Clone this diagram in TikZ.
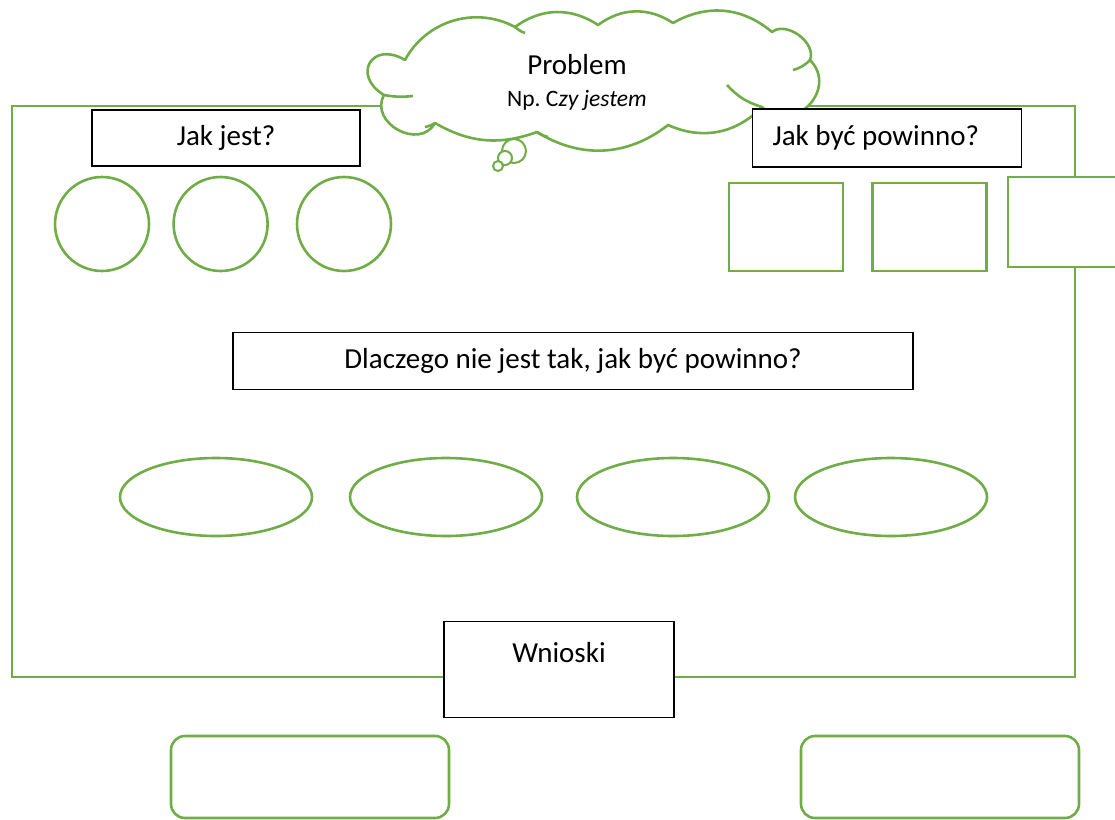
\documentclass[tikz,border=0pt]{standalone}
\usepackage{fontspec}
\setmainfont{Carlito}
\usetikzlibrary{positioning,shapes.geometric}
\definecolor{zielony}{HTML}{70AD47}
\frenchspacing

\begin{document}
\begin{tikzpicture}[x=1pt,y=-1pt,
                g/.style={draw=zielony,line width=2.6pt,fill=white},
                b/.style={draw=black,line width=1.2pt,fill=white,inner sep=0pt},
                kolo/.style={g,circle,minimum size=94pt,inner sep=0pt},
                kw/.style={g,rectangle,minimum width=114pt,minimum height=88pt,inner sep=0pt},
                el/.style={g,ellipse,minimum width=192pt,minimum height=78pt,inner sep=0pt},
                ramka/.style={g,rounded corners=14pt,minimum width=278pt,minimum height=82pt},
                babel/.style={g,circle,inner sep=0pt,line width=2pt},
                node distance=22pt]
                \fontsize{29}{35}\selectfont
                \useasboundingbox (0,0) rectangle (1115,819);
                % ramka glowna
                \draw[g,fill=none] (12,106) rectangle (1075,677);
                % chmurka
                \draw[g,line join=round] (435,123) to[bend left=90,looseness=1.4] (384,95)
                      to[bend left=90,looseness=2.4] (405,60)
                      to[bend left=45] (515,27)
                      to[bend left=35] (598,25)
                      to[bend left=35] (673,23)
                      to[bend left=35] (772,32)
                      to[bend left=75] (810,60)
                      to[bend left=90,looseness=1.6] (762,107)
                      to[bend left=35] (668,125)
                      to[bend left=35] (537,132)
                      to[bend left=25] (435,123) -- cycle;
                \draw[draw=zielony,line width=2.6pt] (384,95) to[bend right=8] (413,96)
                      (515,27) to[bend right=10] (525,33)
                      (810,60) to[bend left=15] (793,70)
                      (762,107) to[bend left=15] (727,85)
                      (537,132) to[bend right=10] (548,137)
                      (435,123) to[bend left=10] (425,127);
                \node[align=center,inner sep=0pt] (problem) at (577,82)
                      {Problem\\[-3pt]{\fontsize{23.5}{28}\selectfont Np. C\textit{zy jestem}}};
                \node[babel,minimum size=24pt] (m1) at (514,151) {};
                \node[babel,minimum size=14pt] (m2) at (505,158) {};
                \node[babel,minimum size=10pt] (m3) at (498,166) {};
                % jak jest
                \node[b,minimum width=268pt,minimum height=56pt] (jakjest) at (226,138) {Jak jest?};
                \node[kolo] (k1) at (102,224) {};
                \node[kolo] (k2)[right=of k1]{};
                \node[kolo] (k3) at (344,224) {};
                % jak byc powinno
                \node[b,minimum height=58pt,text width=229pt,inner xsep=20pt,align=flush left]
                      (powinno) at (887,138) {Jak być powinno?};
                \node[kw] (s1) at (786,227) {};
                \node[kw,node distance=27pt] (s2)[right=of s1]{};
                \node[kw,minimum width=110pt,minimum height=90pt] (s3) at (1063,222) {};
                % dlaczego
                \node[b,minimum width=680pt,minimum height=57pt] (dlaczego) at (573,361)
                      {Dlaczego nie jest tak, jak być powinno?};
                \node[el] (e1) at (216,497) {};
                \node[el] (e2) at (446,497) {};
                \node[el] (e3) at (673,497) {};
                \node[el] (e4) at (891,497) {};
                % wnioski
                \node[b,anchor=north,minimum width=230pt,text height=41pt,text depth=55pt]
                      (wnioski) at (559,621) {Wnioski};
                \node[ramka] (r1) at (310,777) {};
                \node[ramka] (r2) at (940,777) {};
\end{tikzpicture}
\end{document}
